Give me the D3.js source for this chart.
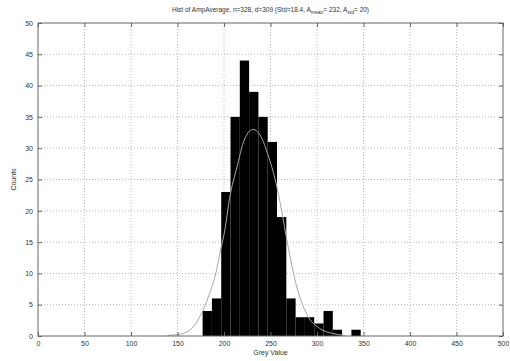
<!DOCTYPE html>
<html>
<head>
<meta charset="utf-8">
<script src="https://cdn.jsdelivr.net/npm/d3@7"></script>
<style>
  body { margin: 0; background: #fff; }
  svg text { font-family: "Liberation Sans", Arial, sans-serif; fill: #333; }
</style>
</head>
<body>
<div id="chart"></div>
<script>
// histogram bins (left edge, grey value) and counts
const binStarts = [177, 187, 197, 207, 217, 227, 237, 247, 257, 267, 277, 287, 297, 307, 317, 327, 337];
const binCounts = [4, 6, 23, 35, 44, 39, 35, 31, 19, 6, 3, 3, 2, 4, 1, 0, 1];
const binWidth = 10;

// fitted curve, points
const fitX = [139, 153, 167, 177, 185, 192, 196, 201, 206, 214, 221, 231, 241, 246, 255, 262, 268, 278, 289, 303, 317, 330];
const fitY = [0.1, 0.3, 1.5, 4, 7, 10.5, 13.5, 17, 22, 27, 31, 33, 31.5, 29.5, 25, 20, 15, 8, 3.5, 1.2, 0.4, 0.1];

const xTicks = [0, 50, 100, 150, 200, 250, 300, 350, 400, 450, 500];
const yTicks = [0, 5, 10, 15, 20, 25, 30, 35, 40, 45, 50];

const title = 'Hist of AmpAverage, n=328, d=309 (Std=18.4, A';
const W = 510, H = 361;
const margin = {top: 23, right: 7, bottom: 25, left: 38};
const width = W - margin.left - margin.right;
const height = H - margin.top - margin.bottom;

const svg = d3.select('#chart').append('svg')
    .attr('width', W)
    .attr('height', H);

const g = svg.append('g')
    .attr('transform', 'translate(' + margin.left + ',' + margin.top + ')');

const x = d3.scaleLinear().domain([0, 500]).range([0, width]);
const y = d3.scaleLinear().domain([0, 50]).range([height, 0]);

// dotted grid
g.append('g').selectAll('line.gx')
    .data(xTicks.slice(1, -1))
    .enter().append('line')
    .attr('x1', d => x(d)).attr('x2', d => x(d))
    .attr('y1', 0).attr('y2', height)
    .attr('stroke', '#a8a8a8').attr('stroke-width', 0.8)
    .attr('stroke-dasharray', '1,2');

g.append('g').selectAll('line.gy')
    .data(yTicks.slice(1, -1))
    .enter().append('line')
    .attr('x1', 0).attr('x2', width)
    .attr('y1', d => y(d)).attr('y2', d => y(d))
    .attr('stroke', '#a8a8a8').attr('stroke-width', 0.8)
    .attr('stroke-dasharray', '1,2');

// bars
g.selectAll('.bar')
    .data(binStarts.map((s, i) => ({s: s, c: binCounts[i]})).filter(d => d.c > 0))
    .enter().append('rect')
    .attr('class', 'bar')
    .attr('x', d => x(d.s))
    .attr('y', d => y(d.c))
    .attr('width', d => x(d.s + binWidth) - x(d.s))
    .attr('height', d => height - y(d.c))
    .attr('fill', '#000');

// fitted curve
const line = d3.line()
    .x((d, i) => x(fitX[i]))
    .y(d => y(d))
    .curve(d3.curveMonotoneX);

g.append('path')
    .datum(fitY)
    .attr('d', line)
    .attr('fill', 'none')
    .attr('stroke', '#a6a6a6')
    .attr('stroke-width', 1);

// axes, MATLAB style: box with inward ticks
const axStyle = sel => {
    sel.select('.domain').remove();
    sel.selectAll('.tick line').attr('stroke', '#666');
    sel.selectAll('.tick text').attr('font-size', '7px').attr('fill', '#444');
};

g.append('g')
    .attr('transform', 'translate(0,' + height + ')')
    .call(d3.axisBottom(x).tickValues(xTicks).tickSizeInner(-4).tickSizeOuter(0).tickPadding(5))
    .call(axStyle);

g.append('g')
    .call(d3.axisTop(x).tickValues(xTicks).tickSizeInner(-4).tickSizeOuter(0).tickFormat(''))
    .call(axStyle);

g.append('g')
    .call(d3.axisLeft(y).tickValues(yTicks).tickSizeInner(-4).tickSizeOuter(0).tickPadding(5))
    .call(axStyle);

g.append('g')
    .attr('transform', 'translate(' + width + ',0)')
    .call(d3.axisRight(y).tickValues(yTicks).tickSizeInner(-4).tickSizeOuter(0).tickFormat(''))
    .call(axStyle);

g.append('rect')
    .attr('width', width).attr('height', height)
    .attr('fill', 'none').attr('stroke', '#666').attr('stroke-width', 1);

// labels
const t = svg.append('text')
    .attr('x', margin.left + width / 2)
    .attr('y', 12)
    .attr('text-anchor', 'middle')
    .attr('font-size', '6.5px');
t.append('tspan').text(title);
t.append('tspan').attr('dy', 2).attr('font-size', '5px').text('mean');
t.append('tspan').attr('dy', -2).text('= 232, A');
t.append('tspan').attr('dy', 2).attr('font-size', '5px').text('std');
t.append('tspan').attr('dy', -2).text('= 20)');

svg.append('text')
    .attr('x', margin.left + width / 2)
    .attr('y', 355)
    .attr('text-anchor', 'middle')
    .attr('font-size', '7px')
    .text('Grey Value');

svg.append('text')
    .attr('transform', 'translate(16,' + (margin.top + height / 2) + ') rotate(-90)')
    .attr('text-anchor', 'middle')
    .attr('font-size', '7px')
    .text('Counts');
</script>
</body>
</html>
